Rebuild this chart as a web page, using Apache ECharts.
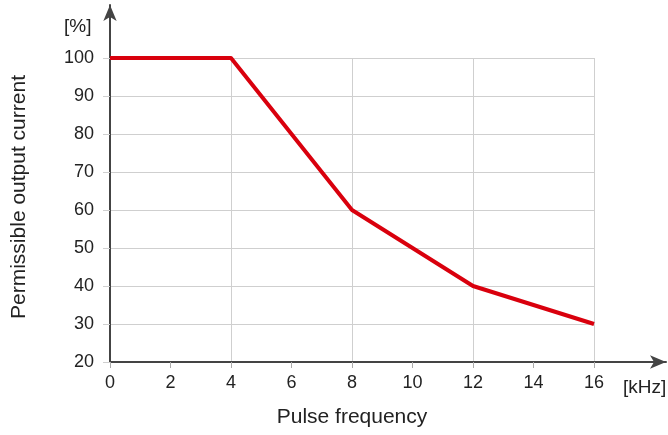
<!DOCTYPE html>
<html>
<head>
<meta charset="utf-8">
<script src="https://cdn.jsdelivr.net/npm/echarts@6/dist/echarts.min.js"></script>
<style>
  html, body { margin: 0; padding: 0; background: #fff; }
  #chart { width: 668px; height: 435px; }
</style>
</head>
<body>
<div id="chart"></div>
<script>
// derating curve: pulse frequency [kHz] vs permissible output current [%]
const freq = [0, 4, 8, 12, 16];
const current = [100, 100, 60, 40, 30];

const font = "'Liberation Sans', Arial, sans-serif";
const textColor = "#222";
const gridColor = "#cfcfcf";
const axisColor = "#444";

const chart = echarts.init(document.getElementById("chart"));

const option = {
  animation: false,
  title: [
    { text: "[%]", left: 59, top: 12, textStyle: { fontFamily: font, fontSize: 19, fontWeight: "normal", color: textColor } },
    { text: "[kHz]", left: 618, top: 373, textStyle: { fontFamily: font, fontSize: 19, fontWeight: "normal", color: textColor } },
  ],
  grid: [
    // data area
    { left: 110, right: 74, top: 58, bottom: 73 },
    // wider box just for the arrowed axis lines
    { left: 110, right: 2, top: 5, bottom: 73 },
  ],
  xAxis: [
    {
      // split lines every 4 kHz
      type: "value", gridIndex: 0, min: 0, max: 16, interval: 4,
      axisLine: { show: false },
      axisTick: { show: false },
      axisLabel: { show: false },
      splitLine: { show: true, lineStyle: { color: gridColor, width: 1 } },
    },
    {
      // ticks + labels every 2 kHz
      type: "value", gridIndex: 0, min: 0, max: 16, interval: 2, position: "bottom",
      name: "Pulse frequency", nameLocation: "middle", nameGap: 45,
      nameTextStyle: { fontFamily: font, fontSize: 21, color: textColor },
      axisLine: { show: false },
      axisTick: { show: true, inside: false, length: 6, lineStyle: { color: "#aaa", width: 1 } },
      axisLabel: { margin: 12, fontFamily: font, fontSize: 18, color: textColor },
      splitLine: { show: false },
    },
    {
      type: "value", gridIndex: 1, min: 0, max: 1,
      axisLine: { show: true, symbol: ["none", "arrow"], symbolSize: [10, 16], lineStyle: { color: axisColor, width: 2 } },
      axisTick: { show: false },
      axisLabel: { show: false },
      splitLine: { show: false },
    },
  ],
  yAxis: [
    {
      type: "value", gridIndex: 0, min: 20, max: 100, interval: 10,
      name: "Permissible output current", nameLocation: "middle", nameGap: 80,
      nameTextStyle: { fontFamily: font, fontSize: 21, color: textColor, padding: [0, 0, 0, 26] },
      axisLine: { show: false },
      axisTick: { show: true, length: 7, lineStyle: { color: gridColor, width: 1 } },
      axisLabel: { margin: 16, fontFamily: font, fontSize: 18, color: textColor },
      splitLine: { show: true, lineStyle: { color: gridColor, width: 1 } },
    },
    {
      type: "value", gridIndex: 1, min: 0, max: 1,
      axisLine: { show: true, symbol: ["none", "arrow"], symbolSize: [10, 16], lineStyle: { color: axisColor, width: 2 } },
      axisTick: { show: false },
      axisLabel: { show: false },
      splitLine: { show: false },
    },
  ],
  series: [
    {
      type: "line",
      xAxisIndex: 0,
      yAxisIndex: 0,
      data: freq.map((f, i) => [f, current[i]]),
      showSymbol: false,
      lineStyle: { color: "#d9000d", width: 4, join: "round" },
      z: 5,
    },
  ],
};

chart.setOption(option);
</script>
</body>
</html>
